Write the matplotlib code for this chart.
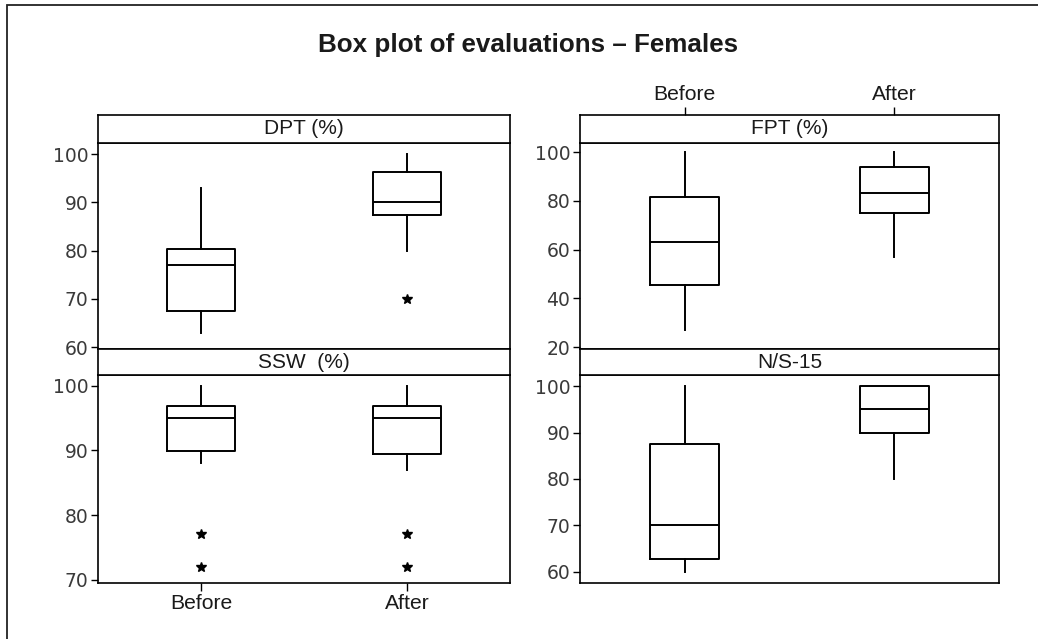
import matplotlib
matplotlib.use("Agg")
import matplotlib.pyplot as plt
from matplotlib.patches import Rectangle

plt.rcParams["font.family"] = ["Liberation Sans", "DejaVu Sans"]

groups = ["Before", "After"]
panel_titles = ["DPT (%)", "FPT (%)", "SSW  (%)", "N/S-15"]

# five-number summaries: whislo, q1, med, q3, whishi
dpt_before = [63, 67.5, 77, 80.3, 93]
dpt_after = [80, 87.3, 90, 96.2, 100]
dpt_out = [[], [70]]

fpt_before = [27, 45.3, 63, 81.6, 100]
fpt_after = [57, 75, 83, 94, 100]
fpt_out = [[], []]

ssw_before = [88, 89.9, 95, 96.8, 100]
ssw_after = [87, 89.4, 95, 96.8, 100]
ssw_out = [[77, 72], [77, 72]]

ns_before = [60, 62.8, 70, 87.5, 100]
ns_after = [80, 90, 95, 100, 100]
ns_out = [[], []]

yticks = [[60, 70, 80, 90, 100], [20, 40, 60, 80, 100], [70, 80, 90, 100], [60, 70, 80, 90, 100]]
ylims = [(59.6, 102.3), (19.2, 103.7), (69.5, 101.65), (57.6, 102.4)]

W, H = 1038, 639
fig = plt.figure(figsize=(W / 100, H / 100), dpi=100)

def fr(x0, y0, x1, y1):
    return [x0 / W, 1 - y1 / H, (x1 - x0) / W, (y1 - y0) / H]

# outer frame (only left/top visible)
fig.patches.append(Rectangle((7 / W, -0.1), 1.2, 1 - 5 / H + 0.1, transform=fig.transFigure,
                             fill=False, lw=1.3, ec="#222222"))

fig.text(528 / W, 1 - 45 / H, "Box plot of evaluations \u2013 Females", ha="center", va="center",
         fontsize=18.7, fontweight="bold", color="#1a1a1a")

panels = [
    (98, 510, 115, 143, 349, dpt_before, dpt_after, dpt_out),
    (580, 999, 115, 143, 349, fpt_before, fpt_after, fpt_out),
    (98, 510, 349, 375, 583, ssw_before, ssw_after, ssw_out),
    (580, 999, 349, 375, 583, ns_before, ns_after, ns_out),
]

for i, (x0, x1, yh, yp, yb, b, a, outs) in enumerate(panels):
    ax = fig.add_axes(fr(x0, yp, x1, yb))
    stats = []
    for name, s, o in zip(groups, [b, a], outs):
        stats.append(dict(label=name, whislo=s[0], q1=s[1], med=s[2], q3=s[3], whishi=s[4], fliers=o))
    ax.bxp(stats, positions=[1, 2], widths=0.33, showcaps=False,
           boxprops=dict(color="black", lw=1.4),
           medianprops=dict(color="black", lw=1.4),
           whiskerprops=dict(color="black", lw=1.4),
           flierprops=dict(marker="*", markersize=7, markerfacecolor="black", markeredgecolor="black"))
    ax.set_xlim(0.5, 2.5)
    ax.set_ylim(*ylims[i])
    ax.set_yticks(yticks[i])
    ax.tick_params(axis="y", labelsize=13.5, labelcolor="#3a3a3a", length=5, width=1, pad=2)
    ax.tick_params(axis="x", length=0)
    for sp in ax.spines.values():
        sp.set_linewidth(1.2)
    if i == 2:
        ax.set_xticks([1, 2])
        ax.set_xticklabels(groups, fontsize=15.2, color="#1a1a1a")
        ax.tick_params(axis="x", length=6, width=1, pad=2)
    else:
        ax.set_xticks([])
    ax.set_yticklabels([str(t) for t in yticks[i]], family="DejaVu Sans")

    hx = fig.add_axes(fr(x0, yh, x1, yp))
    hx.set_xlim(0.5, 2.5)
    hx.set_ylim(0, 1)
    hx.set_yticks([])
    for sp in hx.spines.values():
        sp.set_linewidth(1.2)
    hx.text(1.5, 0.5, panel_titles[i], ha="center", va="center", fontsize=15, color="#1a1a1a")
    if i == 1:
        hx.xaxis.tick_top()
        hx.set_xticks([1, 2])
        hx.set_xticklabels(groups, fontsize=15.2, color="#1a1a1a")
        hx.tick_params(axis="x", length=6, width=1, pad=2)
    else:
        hx.set_xticks([])

fig.savefig("out.png", dpi=100, facecolor="white")
